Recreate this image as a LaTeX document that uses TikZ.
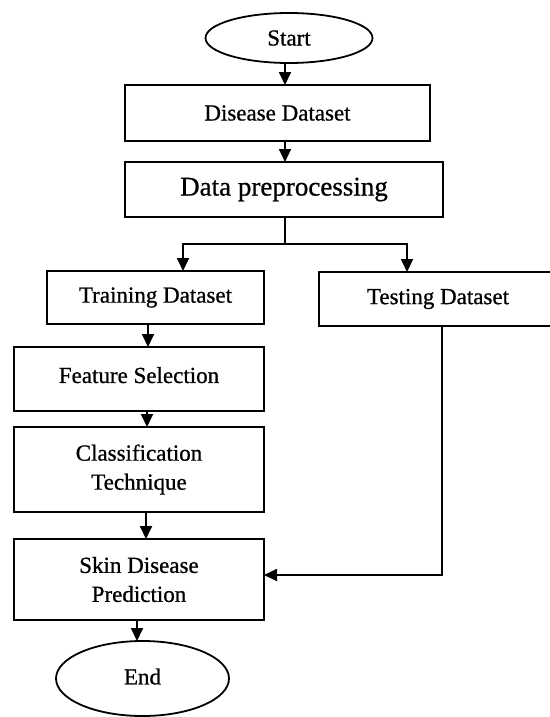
\documentclass[tikz,border=0pt]{standalone}
\usepackage{fontspec}
\setmainfont{Liberation Serif}[BoldFont=Liberation Serif,BoldFeatures={FakeBold=0.8}]
\usetikzlibrary{arrows.meta,shapes.geometric,calc}
\begin{document}
\begin{tikzpicture}[x=1pt,y=-1pt,
  every node/.style={inner sep=0pt,outer sep=0pt,font=\bfseries\fontsize{23}{29}\selectfont},
  stepbox/.style={draw,line width=1.8pt,rectangle,align=center},
  term/.style={draw,line width=1.8pt,ellipse},
  arr/.style={line width=1.8pt,-{Triangle[width=12pt,length=13pt]}},
  ln/.style={line width=1.8pt}]
\useasboundingbox (0,0) rectangle (549,717);
\node[term,minimum width=167pt,minimum height=50pt] (start) at (289,38) {Start};
\node[stepbox,minimum width=305pt,minimum height=56pt] (disease) at (277.5,113) {Disease Dataset};
\node[stepbox,minimum width=318pt,minimum height=55pt,font=\bfseries\fontsize{27}{32}\selectfont] (prep) at (284,189.5) {Data preprocessing};
\node[stepbox,minimum width=217pt,minimum height=53pt] (train) at (155.5,297.5) {Training Dataset};
\node[stepbox,minimum width=238pt,minimum height=54pt] (test) at (438,299) {Testing Dataset};
\node[stepbox,minimum width=250pt,minimum height=64pt] (feat) at (139,379) {\raisebox{8pt}{Feature Selection}};
\node[stepbox,minimum width=250pt,minimum height=85pt] (class) at (139,469.5) {Classification\\Technique};
\node[stepbox,minimum width=250pt,minimum height=81pt] (skin) at (139,579.5) {Skin Disease\\Prediction};
\node[term,minimum width=173pt,minimum height=75pt] (end) at (142.5,678.5) {\raisebox{4pt}{End}};
\coordinate (bm) at (285,244);
\draw[arr] ([xshift=-4pt]start.south) -- ([xshift=-4pt]start.south |- disease.north);
\draw[arr] ([xshift=7.5pt]disease.south) -- ([xshift=7.5pt]disease.south |- prep.north);
\draw[ln] ([xshift=1pt]prep.south) -- (bm);
\draw[arr] (bm) -| ([xshift=27.5pt]train.north);
\draw[arr] (bm) -| ([xshift=-31pt]test.north);
\draw[arr] ([xshift=-7.5pt]train.south) -- ([xshift=-7.5pt]train.south |- feat.north);
\draw[arr] ([xshift=8pt]feat.south) -- ([xshift=8pt]feat.south |- class.north);
\draw[arr] ([xshift=7pt]class.south) -- ([xshift=7pt]class.south |- skin.north);
\draw[arr] ([xshift=-2pt]skin.south) -- ([xshift=-2pt]skin.south |- end.north);
\draw[arr] ([xshift=4pt]test.south) |- ([yshift=4.5pt]skin.east);
\end{tikzpicture}
\end{document}
